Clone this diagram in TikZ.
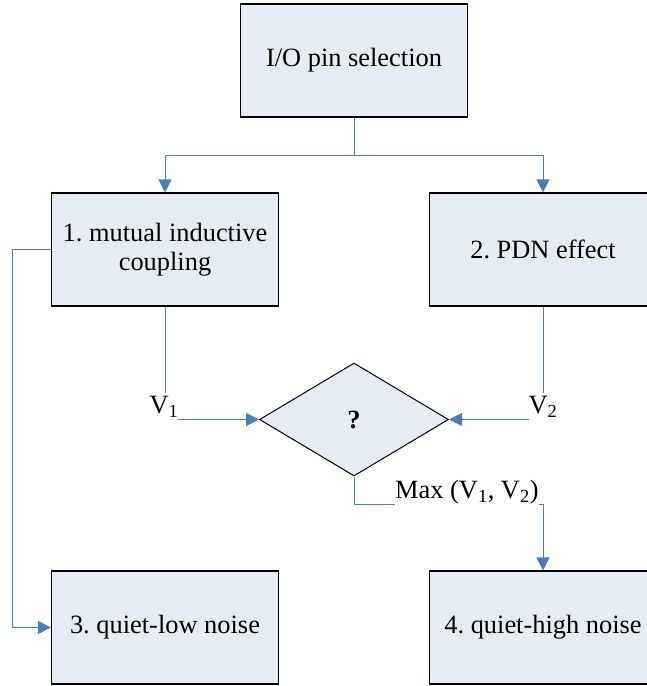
\documentclass[tikz,border=0pt]{standalone}
\usepackage{fontspec}
\setmainfont{Liberation Serif}
\usetikzlibrary{shapes.geometric,arrows.meta}
\definecolor{boxfill}{HTML}{E6ECF6}
\definecolor{connblue}{HTML}{4A7EBB}
\frenchspacing
\begin{document}
\begin{tikzpicture}[x=1bp,y=-1bp,
  font=\fontsize{26.5}{29}\selectfont\frenchspacing,
  stepbox/.style={draw=black,line width=1.2bp,fill=boxfill,minimum width=227bp,minimum height=113bp,inner sep=0pt,align=center},
  decide/.style={diamond,draw=black,line width=1bp,fill=boxfill,minimum width=189bp,minimum height=113bp,inner sep=0pt,aspect=1.67},
  conn/.style={draw=connblue,line width=1bp,-{Triangle[length=13bp,width=13bp]}},
  lbl/.style={fill=white,inner sep=0pt}]
\useasboundingbox (0,0) rectangle (647,686);
\clip (0,0) rectangle (647,686);
\node[stepbox] (top) at (354,60.5) {\raisebox{-2bp}{I/O pin selection}};
\node[stepbox] (b1) at (165,249.5) {\raisebox{-2bp}{1. mutual inductive}\\\raisebox{-2bp}{coupling}};
\node[stepbox] (b2) at (543,249.5) {2. PDN effect};
\node[decide] (d) at (354,419.5) {\textbf{?}};
\node[stepbox] (b3) at (165,627.5) {3. quiet-low noise};
\node[stepbox] (b4) at (543,627.5) {4. quiet-high noise};
\draw[conn] (top.south) -- ++(0,38) -| (b1.north);
\draw[conn] (top.south) -- ++(0,38) -| (b2.north);
\draw[conn] (b1.south) |- (d.west);
\draw[conn] (b2.south) |- (d.east);
\draw[conn] (d.south) -- ++(0,28) -| (b4.north);
\draw[conn] (b1.west) -- ++(-38,0) |- (b3.west);
\node[lbl,minimum width=28bp,minimum height=28bp] (v1) at (164,407) {V\textsubscript{1}};
\node[lbl,minimum width=28bp,minimum height=28bp] (v2) at (543,407) {V\textsubscript{2}};
\node[lbl,minimum width=136bp,minimum height=29bp,anchor=west] (mx) at (395,492.5) {Max (V\textsubscript{1}, V\textsubscript{2})};
\end{tikzpicture}
\end{document}
